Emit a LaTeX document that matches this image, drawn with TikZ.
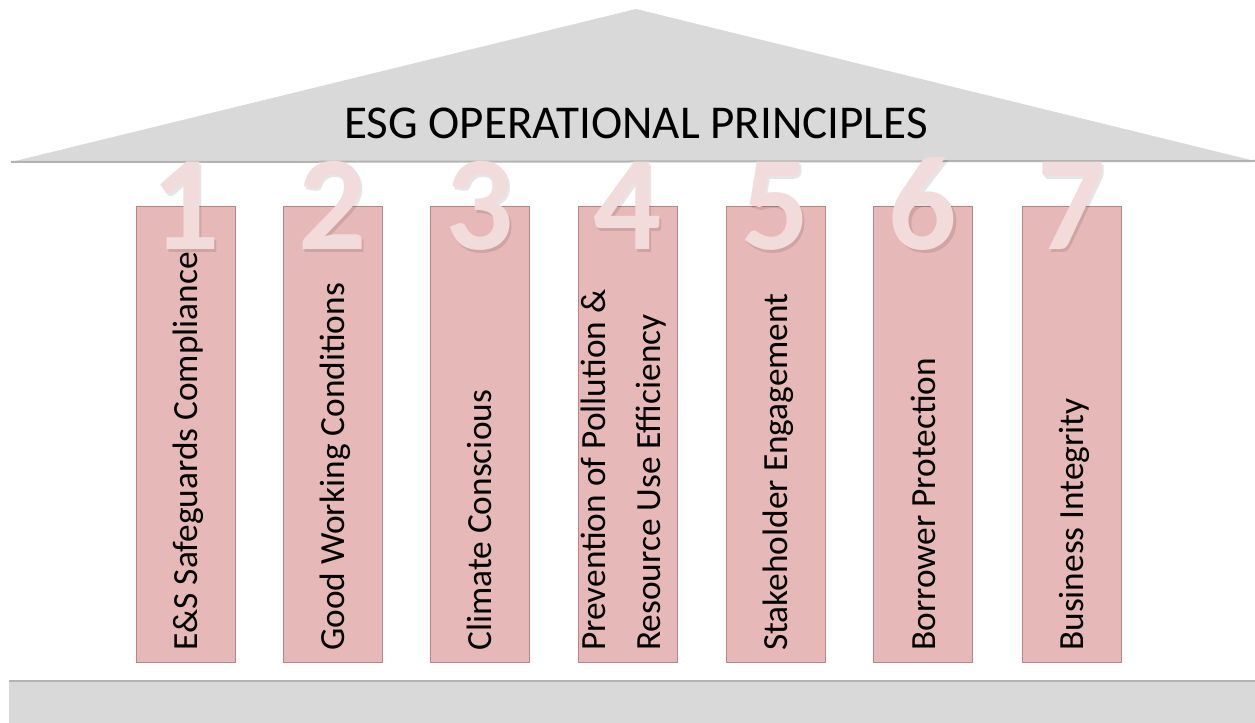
\documentclass[tikz,border=0pt]{standalone}
\usepackage{fontspec}
\setmainfont{Carlito}
\definecolor{roofgray}{HTML}{D9D9D9}
\definecolor{roofedge}{HTML}{B3B3B3}
\definecolor{colfill}{HTML}{E6B8B7}
\definecolor{coledge}{HTML}{B98584}
\definecolor{numpink}{HTML}{F2DCDB}
\tikzset{
  colbox/.style={fill=colfill, draw=coledge, line width=0.6pt},
  coltext/.style={rotate=90, anchor=base west, inner sep=0pt, font=\fontsize{26.5}{31}\selectfont, text=black},
  bignum/.style={anchor=base, inner sep=0pt, font=\fontsize{101}{110}\selectfont\bfseries, text=numpink},
  numshadow/.style={anchor=base, inner sep=0pt, font=\fontsize{101}{110}\selectfont\bfseries, text=black, opacity=0.10},
}
\begin{document}
\begin{tikzpicture}[x=0.75pt,y=-0.75pt]
\useasboundingbox (0,0) rectangle (1255,723);
% roof
\fill[roofgray] (11,162) -- (636,9) -- (1255,161) -- cycle;
\draw[roofedge, line width=1.5pt] (11,162) -- (1255,161);
\node[font=\fontsize{35.3}{42}\selectfont, anchor=base, inner sep=0pt] (title) at (636,139) {ESG OPERATIONAL PRINCIPLES};
% base
\fill[roofgray] (9,681) rectangle (1255,723);
\draw[roofedge, line width=1.5pt] (9,681) -- (1255,681);
% columns
\foreach \i/\cx in {1/185.5, 2/332.5, 3/479.5, 4/627.5, 5/775.5, 6/923, 7/1071.5} {
  \path[colbox] (\cx-49.5,206) rectangle (\cx+49.5,662);
  \node[numshadow] (s\i) at (\cx+2.5,252.5) {\i};
  \node[bignum] (n\i) at (\cx,250) {\i};
}
\node[coltext] (t1) at (197.5,651) {E\&S Safeguards Compliance};
\node[coltext] (t2) at (344.5,651) {Good Working Conditions};
\node[coltext] (t3) at (491.5,651) {Climate Conscious};
\node[coltext] (t4a) at (605,651) {Prevention of Pollution \&};
\node[coltext] (t4b) at (660,651) {Resource Use Efficiency};
\node[coltext] (t5) at (787.5,651) {Stakeholder Engagement};
\node[coltext] (t6) at (935,651) {Borrower Protection};
\node[coltext] (t7) at (1083.5,651) {Business Integrity};
\end{tikzpicture}
\end{document}
